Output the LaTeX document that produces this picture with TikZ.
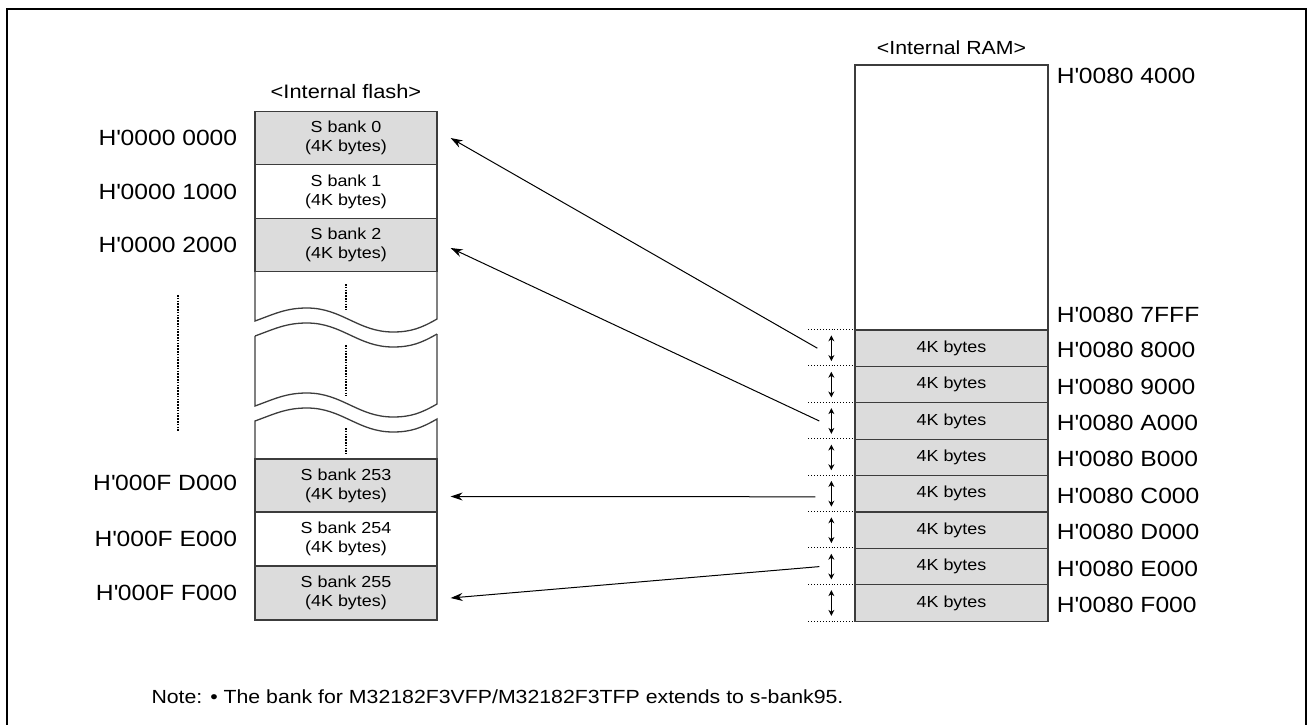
\documentclass[tikz,border=0pt]{standalone}
\usepackage{fontspec}
\setmainfont{Liberation Sans}[FakeStretch=1.12]
\usepackage{tikz}
\usetikzlibrary{arrows.meta}

\definecolor{bankgray}{RGB}{220,220,220}
\definecolor{edge}{RGB}{60,60,60}

\newcommand{\hq}{H\textquotesingle}

\tikzset{
  bank/.style={draw=edge,line width=1.3pt,minimum width=182pt,inner sep=0pt,align=center,font=\fontsize{16}{19}\selectfont},
  ramrow/.style={draw=edge,line width=1.3pt,fill=bankgray,minimum width=193pt,minimum height=36.4pt,inner sep=0pt,font=\fontsize{16}{19}\selectfont},
  addr/.style={font=\fontsize{22}{26}\selectfont,inner sep=0pt},
  dimline/.style={dotted,line width=0.9pt},
  link/.style={->,>={Stealth[length=12pt,width=8pt]},line width=1pt},
  gap/.style={line width=2.8pt,dash pattern=on 1.6pt off 1.2pt}
}

% wavy break edge of the flash column
\newcommand{\brk}[1]{(255,#1) to[out=20,in=180] ++(52,-13) to[out=0,in=180] ++(86,24) to[out=0,in=210] ++(44,-13)}

\begin{document}
\begin{tikzpicture}[x=1pt,y=-1pt]
\useasboundingbox (0,0) rectangle (1307,725);
\draw[line width=2pt] (7,730) -- (7,9) -- (1306,9) -- (1306,730);

% internal flash
\node[font=\fontsize{19.5}{23}\selectfont] (flash) at (346,92) {<Internal flash>};

\node[bank,fill=bankgray,minimum height=53.5pt] (s0) at (346,138) {S bank 0\\(4K bytes)};
\node[bank,minimum height=53.5pt] (s1) at (346,191.5) {S bank 1\\(4K bytes)};
\node[bank,fill=bankgray,minimum height=53.5pt] (s2) at (346,245) {S bank 2\\(4K bytes)};

\draw[edge,line width=1.3pt] (255,271) -- \brk{321} -- (437,271);
\draw[edge,line width=1.3pt] \brk{336};
\draw[edge,line width=1.3pt] (255,336) -- \brk{406} -- (437,334);
\draw[edge,line width=1.3pt] (255,459) -- \brk{421} -- (437,459);

\draw[gap] (346,284) -- (346,310);
\draw[gap] (346,345) -- (346,396);
\draw[gap] (346,428) -- (346,454);
\draw[gap] (178,295) -- (178,432);

\node[bank,fill=bankgray,minimum height=53pt] (s253) at (346,485.5) {S bank 253\\(4K bytes)};
\node[bank,minimum height=54pt] (s254) at (346,539) {S bank 254\\(4K bytes)};
\node[bank,fill=bankgray,minimum height=54pt] (s255) at (346,593) {S bank 255\\(4K bytes)};

\node[addr,anchor=east] at ([xshift=-17pt]s0.west) {\hq0000 0000};
\node[addr,anchor=east] at ([xshift=-17pt]s1.west) {\hq0000 1000};
\node[addr,anchor=east] at ([xshift=-17pt]s2.west) {\hq0000 2000};
\node[addr,anchor=east] at ([xshift=-17pt,yshift=3pt]s253.west) {\hq000F D000};
\node[addr,anchor=east] at ([xshift=-17pt]s254.west) {\hq000F E000};
\node[addr,anchor=east] at ([xshift=-17pt]s255.west) {\hq000F F000};

% internal RAM
\node[font=\fontsize{19}{23}\selectfont] (ramtitle) at (951.5,48) {<Internal RAM>};
\node[draw=edge,line width=1.3pt,minimum width=193pt,minimum height=265pt,inner sep=0pt] (ram) at (951.5,197.5) {};
\node[addr,anchor=west] at ([xshift=8pt,yshift=-12pt]ram.north east) {\hq0080 4000};
\node[addr,anchor=west] at ([xshift=8pt,yshift=16pt]ram.south east) {\hq0080 7FFF};

\foreach \a [count=\i from 0] in {8,9,A,B,C,D,E,F} {
  \node[ramrow] (r\a) at (951.5,{348.2+36.4*\i}) {4K bytes};
  \node[addr,anchor=west] at ([xshift=8pt,yshift=-2pt]r\a.east) {\hq0080 \a000};
  \draw[dimline] ([xshift=-46pt]r\a.north west) -- (r\a.north west);
  \draw[{Stealth[length=6pt,width=6pt]}-{Stealth[length=6pt,width=6pt]},line width=1.4pt]
    ([xshift=-23pt,yshift=-6pt]r\a.north west) -- ([xshift=-23pt,yshift=6pt]r\a.south west);
}
\draw[dimline] ([xshift=-46pt]rF.south west) -- (rF.south west);

% bank switching
\draw[link] ([xshift=-37pt]r8.west) -- ([xshift=13pt]s0.east);
\draw[link] ([xshift=-35pt]rA.west) -- ([xshift=13pt,yshift=-3pt]s2.east);
\draw[link] ([xshift=-39pt,yshift=-3pt]rC.west) -- ([xshift=13pt,yshift=-11pt]s253.east);
\draw[link] ([xshift=-35pt]rE.west) -- ([xshift=13pt,yshift=-5pt]s255.east);

\node[anchor=west,font=\fontsize{19}{23}\selectfont] (note) at (148,697) {Note: • The bank for M32182F3VFP/M32182F3TFP extends to s-bank95.};
\end{tikzpicture}
\end{document}
